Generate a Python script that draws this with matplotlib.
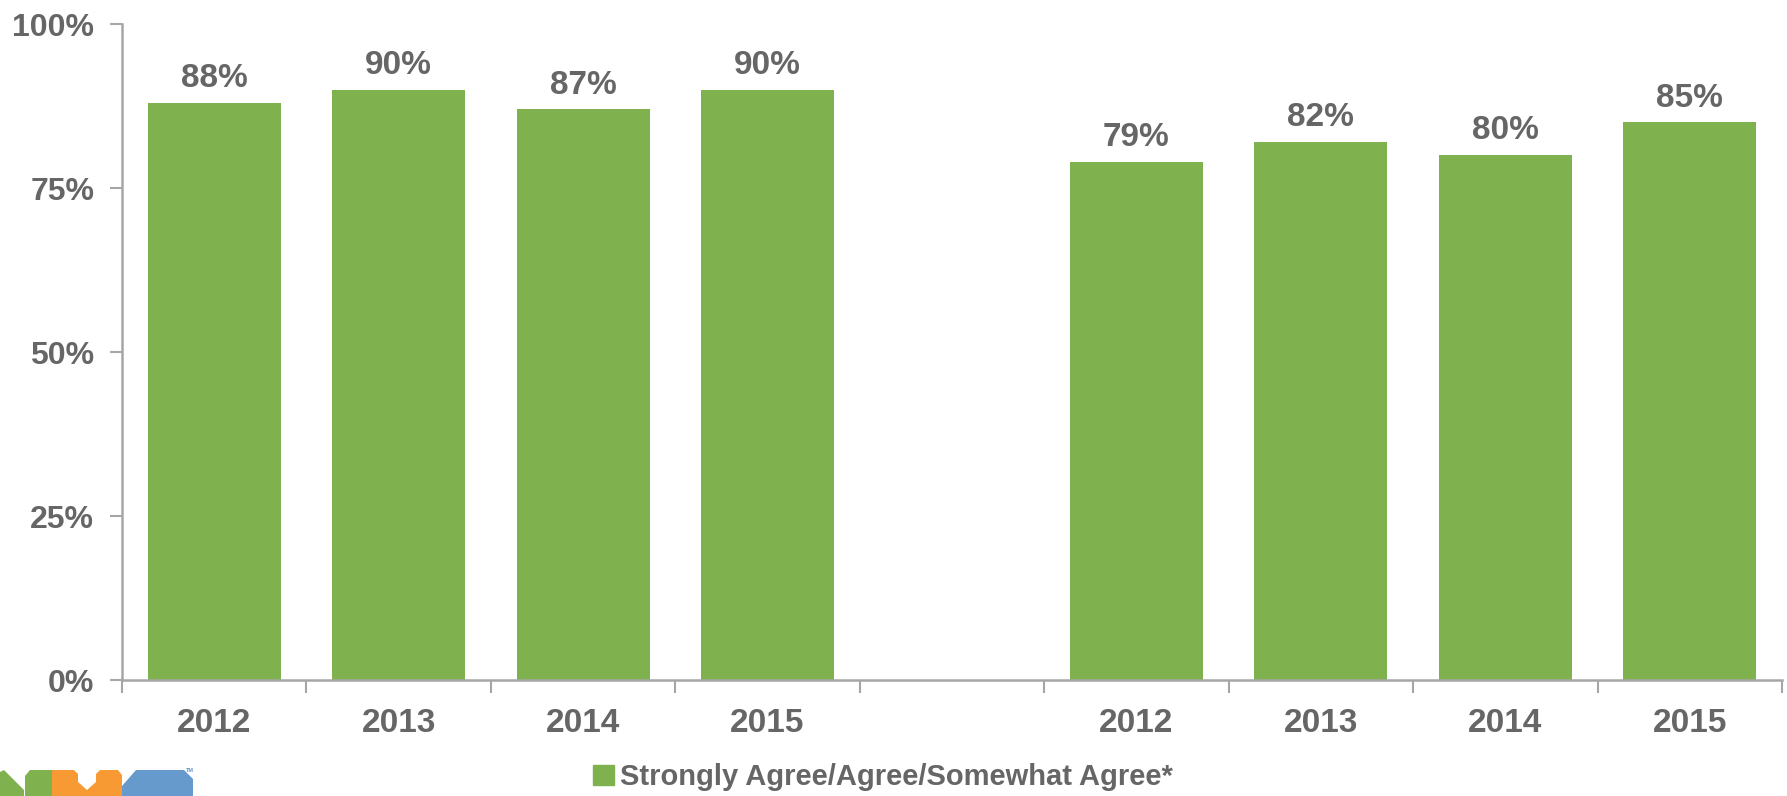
import matplotlib
matplotlib.use("Agg")
import matplotlib.pyplot as plt
from matplotlib.patches import Polygon
import numpy as np

categories = ["2012", "2013", "2014", "2015", "", "2012", "2013", "2014", "2015"]
values = [88, 90, 87, 90, None, 79, 82, 80, 85]
ytick_vals = [0, 25, 50, 75, 100]
ytick_labels = ["0%", "25%", "50%", "75%", "100%"]
legend_label = "Strongly Agree/Agree/Somewhat Agree*"

BAR = "#80B14F"
GRAY = "#666666"
AXIS = "#A6A6A6"

plt.rcParams['font.family'] = ['Liberation Sans', 'DejaVu Sans']
plt.rcParams['font.weight'] = 'bold'

W, H = 1787, 796
fig = plt.figure(figsize=(W / 100, H / 100), dpi=100)
ax = fig.add_axes([122 / W, (H - 680) / H, (1782 - 122) / W, (680 - 24) / H])

x = np.arange(len(categories))
for xi, v in zip(x, values):
    if v is None:
        continue
    ax.bar(xi, v, width=0.72, color=BAR, zorder=2)
    ax.text(xi, v + 3.7, f"{v}%", ha="center", va="center", fontsize=24,
            fontweight="bold", color=GRAY)

ax.set_xlim(-0.5, len(categories) - 0.5)
ax.set_ylim(0, 100)
ax.set_yticks(ytick_vals)
ax.set_yticklabels(ytick_labels, fontsize=23, fontweight="bold", color=GRAY)

# x ticks at category boundaries, labels at centers
ax.set_xticks(np.arange(-0.5, len(categories)), minor=False)
ax.set_xticklabels([])
ax.set_xticks(x, minor=True)
ax.set_xticklabels(categories, minor=True, fontsize=24, fontweight="bold", color=GRAY)
ax.tick_params(axis="x", which="major", length=9, width=1.5, color=AXIS)
ax.tick_params(axis="x", which="minor", length=0, pad=20)
ax.tick_params(axis="y", length=9, width=1.5, color=AXIS, pad=11)

for s in ["top", "right"]:
    ax.spines[s].set_visible(False)
for s in ["left", "bottom"]:
    ax.spines[s].set_color(AXIS)
    ax.spines[s].set_linewidth(1.8)

# legend
leg_handle = plt.Rectangle((0, 0), 1, 1, color=BAR)
fig.legend([leg_handle], [legend_label], loc="center", bbox_to_anchor=(883 / W, (H - 777) / H),
           frameon=False, handlelength=0.7, handleheight=0.7, handletextpad=0.2,
           prop={"weight": "bold", "size": 21}, labelcolor=GRAY)

# logo (partial, bottom-left)
lax = fig.add_axes([0, 0, 1, 1], zorder=-1)
lax.set_xlim(0, W)
lax.set_ylim(H, 0)
lax.axis("off")
green = "#7FB24F"
orange = "#F89A34"
blue = "#6699CC"
lax.add_patch(Polygon([(0, 772), (4, 770), (24, 790), (24, 796), (0, 796)], closed=True, color=green, lw=0))
lax.add_patch(Polygon([(25, 776), (30, 770), (52, 770), (52, 796), (25, 796)], closed=True, color=green, lw=0))
lax.add_patch(Polygon([(52, 770), (74, 770), (78, 774), (78, 782), (87, 790), (96, 782),
                       (96, 774), (100, 770), (118, 770), (122, 775), (122, 796), (52, 796)],
                      closed=True, color=orange, lw=0))
lax.add_patch(Polygon([(122, 786), (136, 770), (184, 770), (193, 779), (193, 796), (122, 796)],
                      closed=True, color=blue, lw=0))
lax.text(190, 771, "TM", fontsize=4, color=blue, ha="center", va="center")

fig.savefig("out.png", dpi=100)
